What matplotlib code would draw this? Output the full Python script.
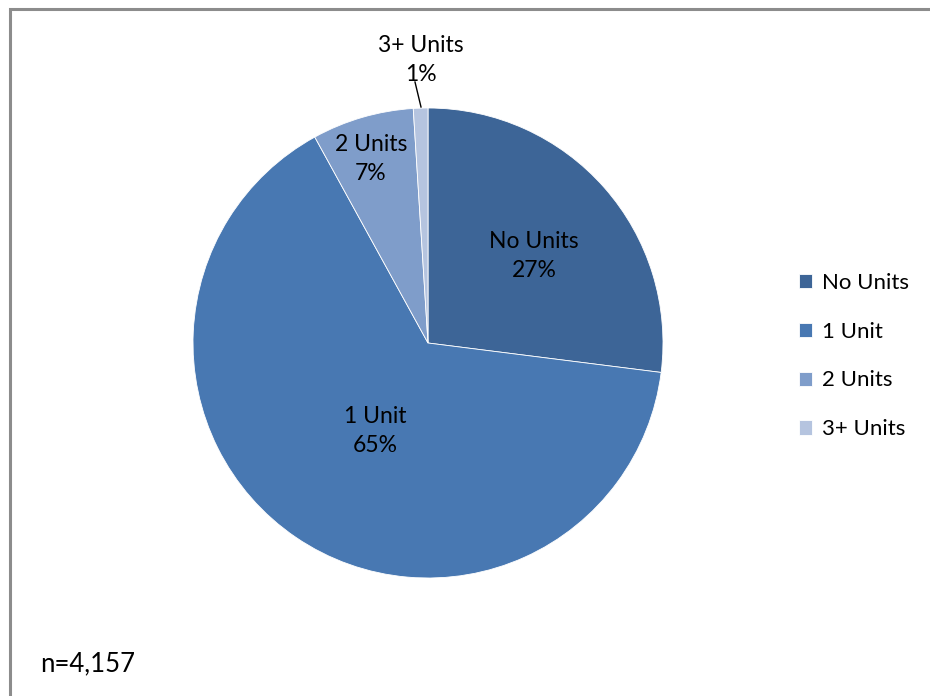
import matplotlib.pyplot as plt
from matplotlib.patches import Rectangle

# datos
categorias = ['No Units', '1 Unit', '2 Units', '3+ Units']
porcentajes = [27, 65, 7, 1]
colores = ['#3D6597', '#4878B2', '#7F9DCA', '#B5C4DF']
n_total = '4,157'

plt.rcParams['font.family'] = ['Lato', 'DejaVu Sans']

fig = plt.figure(figsize=(9.3, 6.96), dpi=100)
W, H = 930, 696

# marco gris del grafico (sale por la derecha y por abajo)
fig.patches.append(Rectangle((9.5 / W, -0.2), 2, 1.2 - 9 / H, transform=fig.transFigure,
                             facecolor='none', edgecolor='#8C8C8C', linewidth=2.2,
                             zorder=5))

# eje del pastel: centro (428, 343), radio 235 px
cx, cy, r = 428, 343, 235
ax = fig.add_axes([(cx - r) / W, (H - cy - r) / H, 2 * r / W, 2 * r / H])
wedges, _ = ax.pie(porcentajes, colors=colores, startangle=90, counterclock=False,
                   radius=1, wedgeprops=dict(edgecolor='white', linewidth=0.6))
ax.set_xlim(-1, 1)
ax.set_ylim(-1, 1)
ax.set_aspect('equal')
ax.axis('off')

def px(x, y):
    return ((x - (cx - r)) / (2 * r), 1 - (y - (cy - r)) / (2 * r))

etiquetas = [f'{c}\n{p}%' for c, p in zip(categorias, porcentajes)]
pos = [(534, 256), (375, 431), (371, 159), (421, 60)]
for txt, (x, y) in zip(etiquetas, pos):
    ax.text(*px(x, y), txt, transform=ax.transAxes, ha='center', va='center',
            fontsize=16.5, linespacing=1.45, color='black')

# linea guia para 3+ Units
p1 = px(415, 82)
p2 = px(421, 107)
ax.plot([p1[0], p2[0]], [p1[1], p2[1]], transform=ax.transAxes, color='black',
        linewidth=1, clip_on=False)

# leyenda
fig.legend(wedges, categorias, loc='center left', bbox_to_anchor=(799 / W, 1 - 356 / H),
           frameon=False, fontsize=16, handlelength=0.6, handleheight=0.6,
           handletextpad=0.45, labelspacing=1.3, borderpad=0, borderaxespad=0)

fig.text(40 / W, 1 - 664 / H, f'n={n_total}', fontsize=18.5, ha='left', va='center')

fig.savefig('out.png', dpi=100)
